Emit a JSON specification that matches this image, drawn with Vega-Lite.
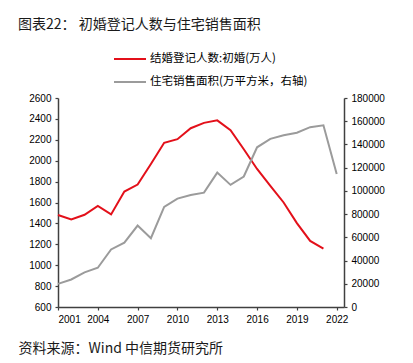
{
  "$schema": "https://vega.github.io/schema/vega-lite/v6.json",
  "width": 286,
  "height": 209,
  "autosize": {"type": "none"},
  "padding": {"left": 58, "top": 98, "right": 69, "bottom": 56},
  "background": "white",
  "title": {
    "text": "图表22： 初婚登记人数与住宅销售面积",
    "anchor": "start",
    "frame": "group",
    "font": "Noto Sans CJK SC",
    "fontSize": 14,
    "fontWeight": "normal",
    "color": "#1a1a1a",
    "dx": -40,
    "offset": 10
  },
  "data": {
    "values": [
      {"year": 2001, "marriage": 1480, "area": 19939},
      {"year": 2002, "marriage": 1438, "area": 23702},
      {"year": 2003, "marriage": 1483, "area": 29779},
      {"year": 2004, "marriage": 1568, "area": 33820},
      {"year": 2005, "marriage": 1486, "area": 49588},
      {"year": 2006, "marriage": 1705, "area": 55423},
      {"year": 2007, "marriage": 1772, "area": 70136},
      {"year": 2008, "marriage": 1968, "area": 59280},
      {"year": 2009, "marriage": 2171, "area": 86185},
      {"year": 2010, "marriage": 2206, "area": 93377},
      {"year": 2011, "marriage": 2311, "area": 96528},
      {"year": 2012, "marriage": 2362, "area": 98468},
      {"year": 2013, "marriage": 2386, "area": 115723},
      {"year": 2014, "marriage": 2292, "area": 105188},
      {"year": 2015, "marriage": 2110, "area": 112412},
      {"year": 2016, "marriage": 1921, "area": 137540},
      {"year": 2017, "marriage": 1759, "area": 144789},
      {"year": 2018, "marriage": 1600, "area": 147929},
      {"year": 2019, "marriage": 1403, "area": 150144},
      {"year": 2020, "marriage": 1232, "area": 154878},
      {"year": 2021, "marriage": 1159, "area": 156532},
      {"year": 2022, "marriage": null, "area": 114631}
    ]
  },
  "config": {
    "view": {"stroke": null},
    "axis": {
      "grid": false,
      "domainColor": "#404040",
      "domainWidth": 1.5,
      "tickColor": "#404040",
      "tickWidth": 1.2,
      "tickSize": 3,
      "labelFont": "Liberation Sans",
      "labelFontSize": 10,
      "labelColor": "#000000",
      "labelPadding": 4
    },
    "legend": {
      "orient": "none",
      "legendX": 55,
      "legendY": -56,
      "symbolType": "stroke",
      "symbolSize": 1024,
      "symbolStrokeWidth": 2,
      "labelFont": "Noto Sans CJK SC",
      "labelFontSize": 11.5,
      "labelColor": "#000000",
      "labelOffset": 3,
      "rowPadding": -12
    }
  },
  "layer": [
    {
      "mark": {"type": "line", "strokeWidth": 2},
      "encoding": {
        "x": {
          "field": "year",
          "type": "quantitative",
          "scale": {"domain": [2001, 2022.55], "nice": false, "zero": false},
          "axis": {
            "values": [2001, 2004, 2007, 2010, 2013, 2016, 2019, 2022],
            "format": "d",
            "title": "资料来源：Wind 中信期货研究所",
            "titleFont": "Noto Sans CJK SC",
            "titleFontSize": 14,
            "titleFontWeight": "normal",
            "titleColor": "#1a1a1a",
            "titleAnchor": "start",
            "titleAlign": "left",
            "titleBaseline": "middle",
            "titleX": -40,
            "titleY": 41
          }
        },
        "y": {
          "field": "marriage",
          "type": "quantitative",
          "scale": {"domain": [600, 2600], "nice": false, "zero": false},
          "axis": {
            "values": [600, 800, 1000, 1200, 1400, 1600, 1800, 2000, 2200, 2400, 2600],
            "format": "d",
            "title": null
          }
        },
        "color": {
          "datum": "结婚登记人数:初婚(万人)",
          "scale": {
            "domain": ["结婚登记人数:初婚(万人)", "住宅销售面积(万平方米，右轴)"],
            "range": ["#e3101a", "#9b9b9b"]
          },
          "legend": {"title": null}
        }
      }
    },
    {
      "mark": {"type": "line", "strokeWidth": 2},
      "encoding": {
        "x": {"field": "year", "type": "quantitative"},
        "y": {
          "field": "area",
          "type": "quantitative",
          "scale": {"domain": [0, 180000], "nice": false},
          "axis": {
            "orient": "right",
            "values": [0, 20000, 40000, 60000, 80000, 100000, 120000, 140000, 160000, 180000],
            "format": "d",
            "title": null
          }
        },
        "color": {"datum": "住宅销售面积(万平方米，右轴)"}
      }
    }
  ],
  "resolve": {"scale": {"y": "independent"}}
}
